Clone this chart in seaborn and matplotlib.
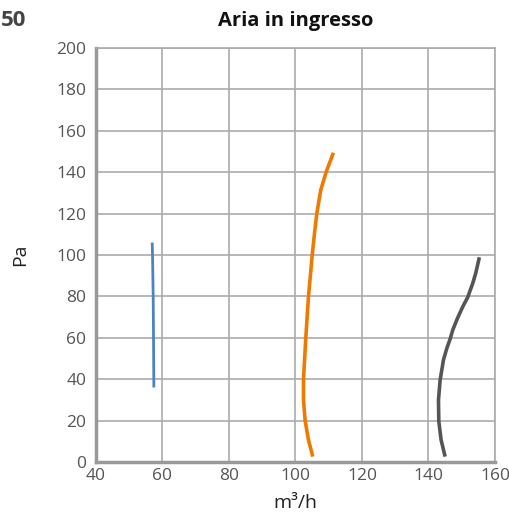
import matplotlib
matplotlib.use("Agg")
import matplotlib.pyplot as plt
import seaborn as sns
import pandas as pd

title = "Aria in ingresso"
x_label = "m³/h"
y_label = "Pa"
x_ticks = [40, 60, 80, 100, 120, 140, 160]
y_ticks = [0, 20, 40, 60, 80, 100, 120, 140, 160, 180, 200]

blue_x = [57.4, 57.3, 57.2, 57.0, 56.9]
blue_y = [36, 60, 80, 100, 106]

orange_x = [105.2, 103.9, 102.9, 102.4, 102.4, 103.1, 103.9, 105.0, 105.6, 106.4, 107.6, 109.2, 111.4]
orange_y = [2.6, 10.6, 20, 30, 40, 60, 80, 99.5, 108.8, 120, 131.4, 140, 149.4]

gray_x = [145.0, 143.8, 143.1, 143.0, 143.5, 144.5, 145.5, 146.5, 147.3, 148.7, 150.3, 151.8, 153.3, 154.2, 155.3]
gray_y = [2.6, 10.6, 19.6, 30, 39.6, 49.3, 54.9, 59.4, 63.8, 69.4, 75.0, 79.6, 86.3, 91.2, 98.9]

sns.set_style("white")
plt.rcParams['font.family'] = ['Open Sans', 'DejaVu Sans']

fig = plt.figure(figsize=(5.1, 5.2), dpi=100)
ax = fig.add_axes([96/510, 58/520, (495-96)/510, (462-48)/520])

series = [
    (blue_x, blue_y, "#4f81c7", 2.0),
    (orange_x, orange_y, "#f07a00", 2.6),
    (gray_x, gray_y, "#555555", 2.6),
]
for xs, ys, col, lw in series:
    df = pd.DataFrame({"x": xs, "y": ys})
    sns.lineplot(data=df, x="x", y="y", sort=False, estimator=None, ax=ax,
                 color=col, linewidth=lw, solid_capstyle="butt",
                 solid_joinstyle="round")

ax.set_xlim(40, 160)
ax.set_ylim(0, 200)
ax.set_xticks(x_ticks)
ax.set_yticks(y_ticks)
ax.grid(True, color="#ababab", linewidth=1.2)
ax.set_axisbelow(True)
for s in ["top", "right"]:
    ax.spines[s].set_color("#ababab")
    ax.spines[s].set_linewidth(1.2)
for s in ["left", "bottom"]:
    ax.spines[s].set_color("#999999")
    ax.spines[s].set_linewidth(2.5)
ax.tick_params(axis="both", length=0, labelsize=12.5, labelcolor="#555555")
ax.tick_params(axis="y", pad=7)
ax.tick_params(axis="x", pad=4)
ax.set_xlabel(x_label, fontsize=14, color="#222222")
ax.set_ylabel(y_label, fontsize=14, color="#222222")
ax.xaxis.set_label_coords(0.5, -0.078)
ax.yaxis.set_label_coords(-0.19, 0.5)
ax.yaxis.label.set_va("center")
ax.set_title(title, fontsize=14.5, fontweight="bold", color="#111111", pad=16)
fig.text(1, 520 - 21, "50", transform=None, fontsize=16, fontweight="bold",
         color="#444444", ha="left", va="center")

fig.savefig("out.png", dpi=100)
